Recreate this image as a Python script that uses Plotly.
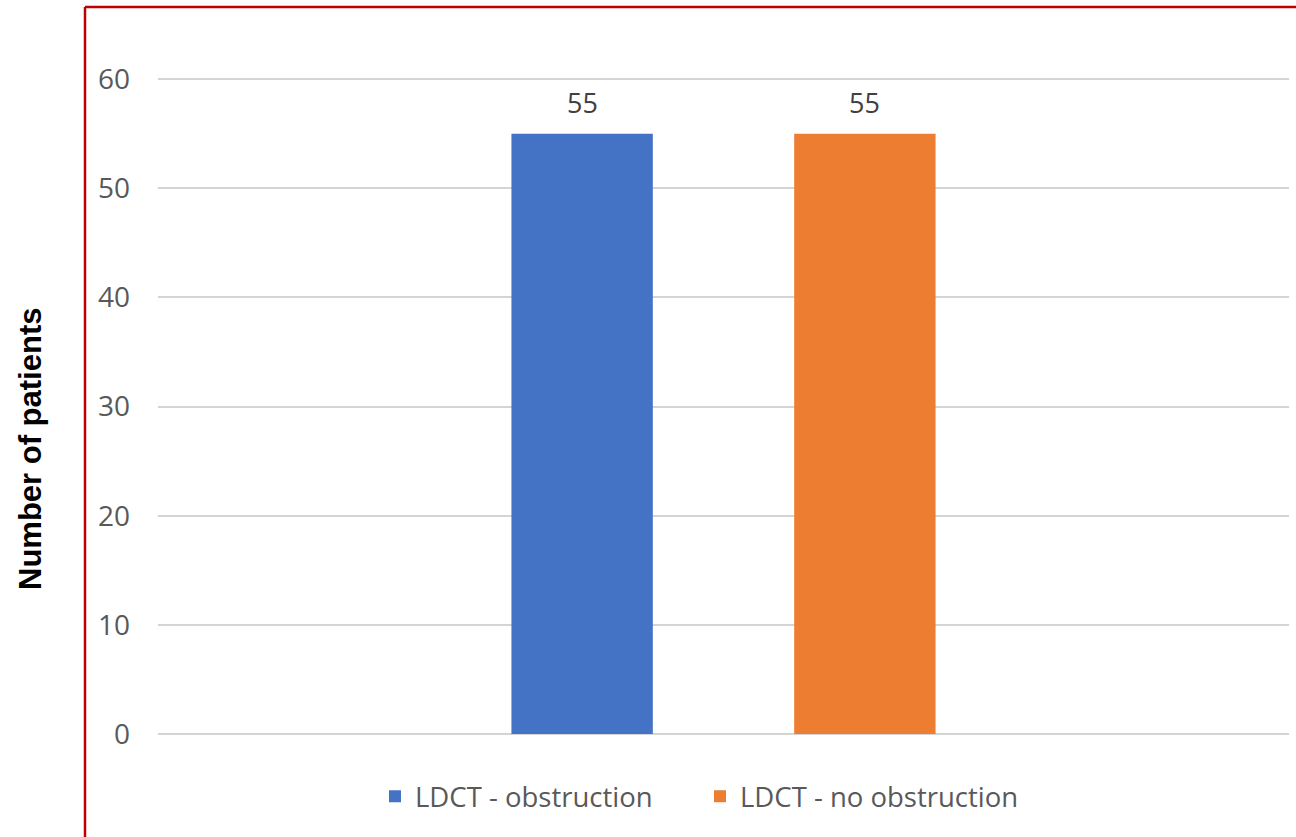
import plotly.graph_objects as go

categories = [""]
series_names = ["LDCT - obstruction", "LDCT - no obstruction"]
series_values = [[55], [55]]
series_colors = ["#4472C4", "#ED7D31"]
y_ticks = [0, 10, 20, 30, 40, 50, 60]

W, H = 1296, 837
L, R, T, B = 158, 7, 78, 103
pw, ph = W - L - R, H - T - B
BARGAP = 0.5

fig = go.Figure()
for name, vals, col in zip(series_names, series_values, series_colors):
    fig.add_trace(go.Bar(
        x=categories, y=vals, name=name, marker_color=col,
        marker_line_width=0,
    ))

# data labels above each bar, placed from the data and the grouping
n = len(series_values)
for i, vals in enumerate(series_values):
    for j, v in enumerate(vals):
        fig.add_annotation(
            x=j + (i - (n - 1) / 2) * (1 - BARGAP) / n, y=v, xref="x", yref="y",
            text=str(v), showarrow=False, yanchor="bottom", yshift=11,
            font=dict(size=27, color="#404040", family="Open Sans"),
        )

fig.update_layout(
    width=W, height=H,
    margin=dict(l=L, r=R, t=T, b=B, autoexpand=False),
    paper_bgcolor="white", plot_bgcolor="white",
    barmode="group", bargap=BARGAP, bargroupgap=0.5,
    font=dict(family="Open Sans", color="#595959"),
    xaxis=dict(showticklabels=False, showgrid=False, zeroline=False, showline=False,
               range=[-0.5, 0.5]),
    yaxis=dict(range=[0, 60.1], tickvals=y_ticks, showgrid=True, gridcolor="#d4d4d4",
               gridwidth=2, zeroline=True, zerolinecolor="#d4d4d4", zerolinewidth=2,
               showline=False, tickfont=dict(size=28, color="#595959", family="Open Sans"),
               ticklabelstandoff=27, automargin=False),
    showlegend=True,
    legend=dict(orientation="h", x=(375 - L) / pw, xanchor="left", y=-0.095, yanchor="middle",
                font=dict(size=27.5, color="#595959", family="Open Sans"),
                itemwidth=30, entrywidth=280, entrywidthmode="pixels", traceorder="normal"),
)

fig.add_annotation(
    text="<b>Number of patients</b>", textangle=-90,
    xref="paper", yref="paper", x=(30 - L) / pw, y=(H - B - 449) / ph,
    xanchor="center", yanchor="middle", showarrow=False,
    font=dict(size=31, color="black", family="Liberation Sans"),
)

# red frame around chart area
fig.add_shape(type="line", xref="paper", yref="paper",
              x0=(85 - L) / pw, x1=(85 - L) / pw, y0=(H - B - 7) / ph, y1=-0.3,
              line=dict(color="#C00000", width=2.5))
fig.add_shape(type="line", xref="paper", yref="paper",
              x0=(85 - L) / pw, x1=1.1, y0=(H - B - 7) / ph, y1=(H - B - 7) / ph,
              line=dict(color="#C00000", width=2.5))

fig.write_html("out.html")
